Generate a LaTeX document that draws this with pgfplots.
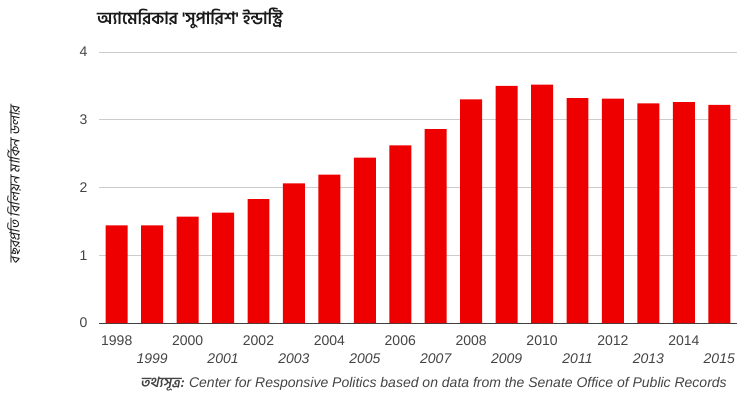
\documentclass[border=0pt]{standalone}
\usepackage{fontspec}
\setmainfont{Liberation Sans}
\newfontfamily\bn[Script=Bengali]{Hind Siliguri}
\newfontfamily\bnit[Script=Bengali,FakeSlant=0.2]{Hind Siliguri}
\usepackage{pgfplots}
\pgfplotsset{compat=1.18}
\definecolor{barred}{RGB}{238,0,0}
\definecolor{txt}{RGB}{68,68,68}
\begin{document}
\begin{tikzpicture}
\useasboundingbox (-99bp,-76bp) rectangle (650bp,323bp);
\begin{axis}[
  at={(0,0)}, anchor=south west,
  scale only axis, width=638bp, height=271bp,
  xmin=-0.5, xmax=17.5, ymin=0, ymax=4,
  ytick={0,1,2,3,4},
  ymajorgrids, grid style={draw=black!20, line width=0.8pt},
  axis lines*=left,
  y axis line style={draw=none},
  x axis line style={draw=black!75, line width=0.9pt},
  major tick length=0pt,
  xtick={0,2,...,16},
  xticklabels={1998,2000,2002,2004,2006,2008,2010,2012,2014},
  extra x ticks={1,3,...,17},
  extra x tick labels={1999,2001,2003,2005,2007,2009,2011,2013,2015},
  extra x tick style={grid=none, tick label style={yshift=-18bp, font=\fontsize{14bp}{16bp}\selectfont\itshape}},
  tick label style={text=txt, font=\fontsize{14bp}{16bp}\selectfont},
  yticklabel style={xshift=-8bp},
  xticklabel style={yshift=-9bp},
  /pgf/number format/assume math mode=true,
  ybar, bar width=0.62,
]
\addplot[fill=barred, draw=none] coordinates {
(0,1.44) (1,1.44) (2,1.57) (3,1.63) (4,1.83) (5,2.06) (6,2.19) (7,2.44)
(8,2.62) (9,2.86) (10,3.30) (11,3.50) (12,3.52) (13,3.32) (14,3.31)
(15,3.24) (16,3.26) (17,3.22)};
\end{axis}
\node[anchor=west, text=black!90, font=\bn\bfseries\fontsize{17bp}{19bp}\selectfont, inner sep=0pt] at (-2bp,305bp) {অ্যামেরিকার 'সুপারিশ' ইন্ডাস্ট্রি};
\node[rotate=90, text=black!90, font=\bnit\fontsize{14bp}{16bp}\selectfont, inner sep=0pt] at (-85bp,138bp) {বছরপ্রতি বিলিয়ন মার্কিন ডলার};
\node[anchor=east, text=txt, inner sep=0pt, font=\fontsize{14bp}{16bp}\selectfont] at (628bp,-61bp) {{\bnit\bfseries তথ্যসূত্র:} \itshape Center for Responsive Politics based on data from the Senate Office of Public Records};
\end{tikzpicture}
\end{document}
